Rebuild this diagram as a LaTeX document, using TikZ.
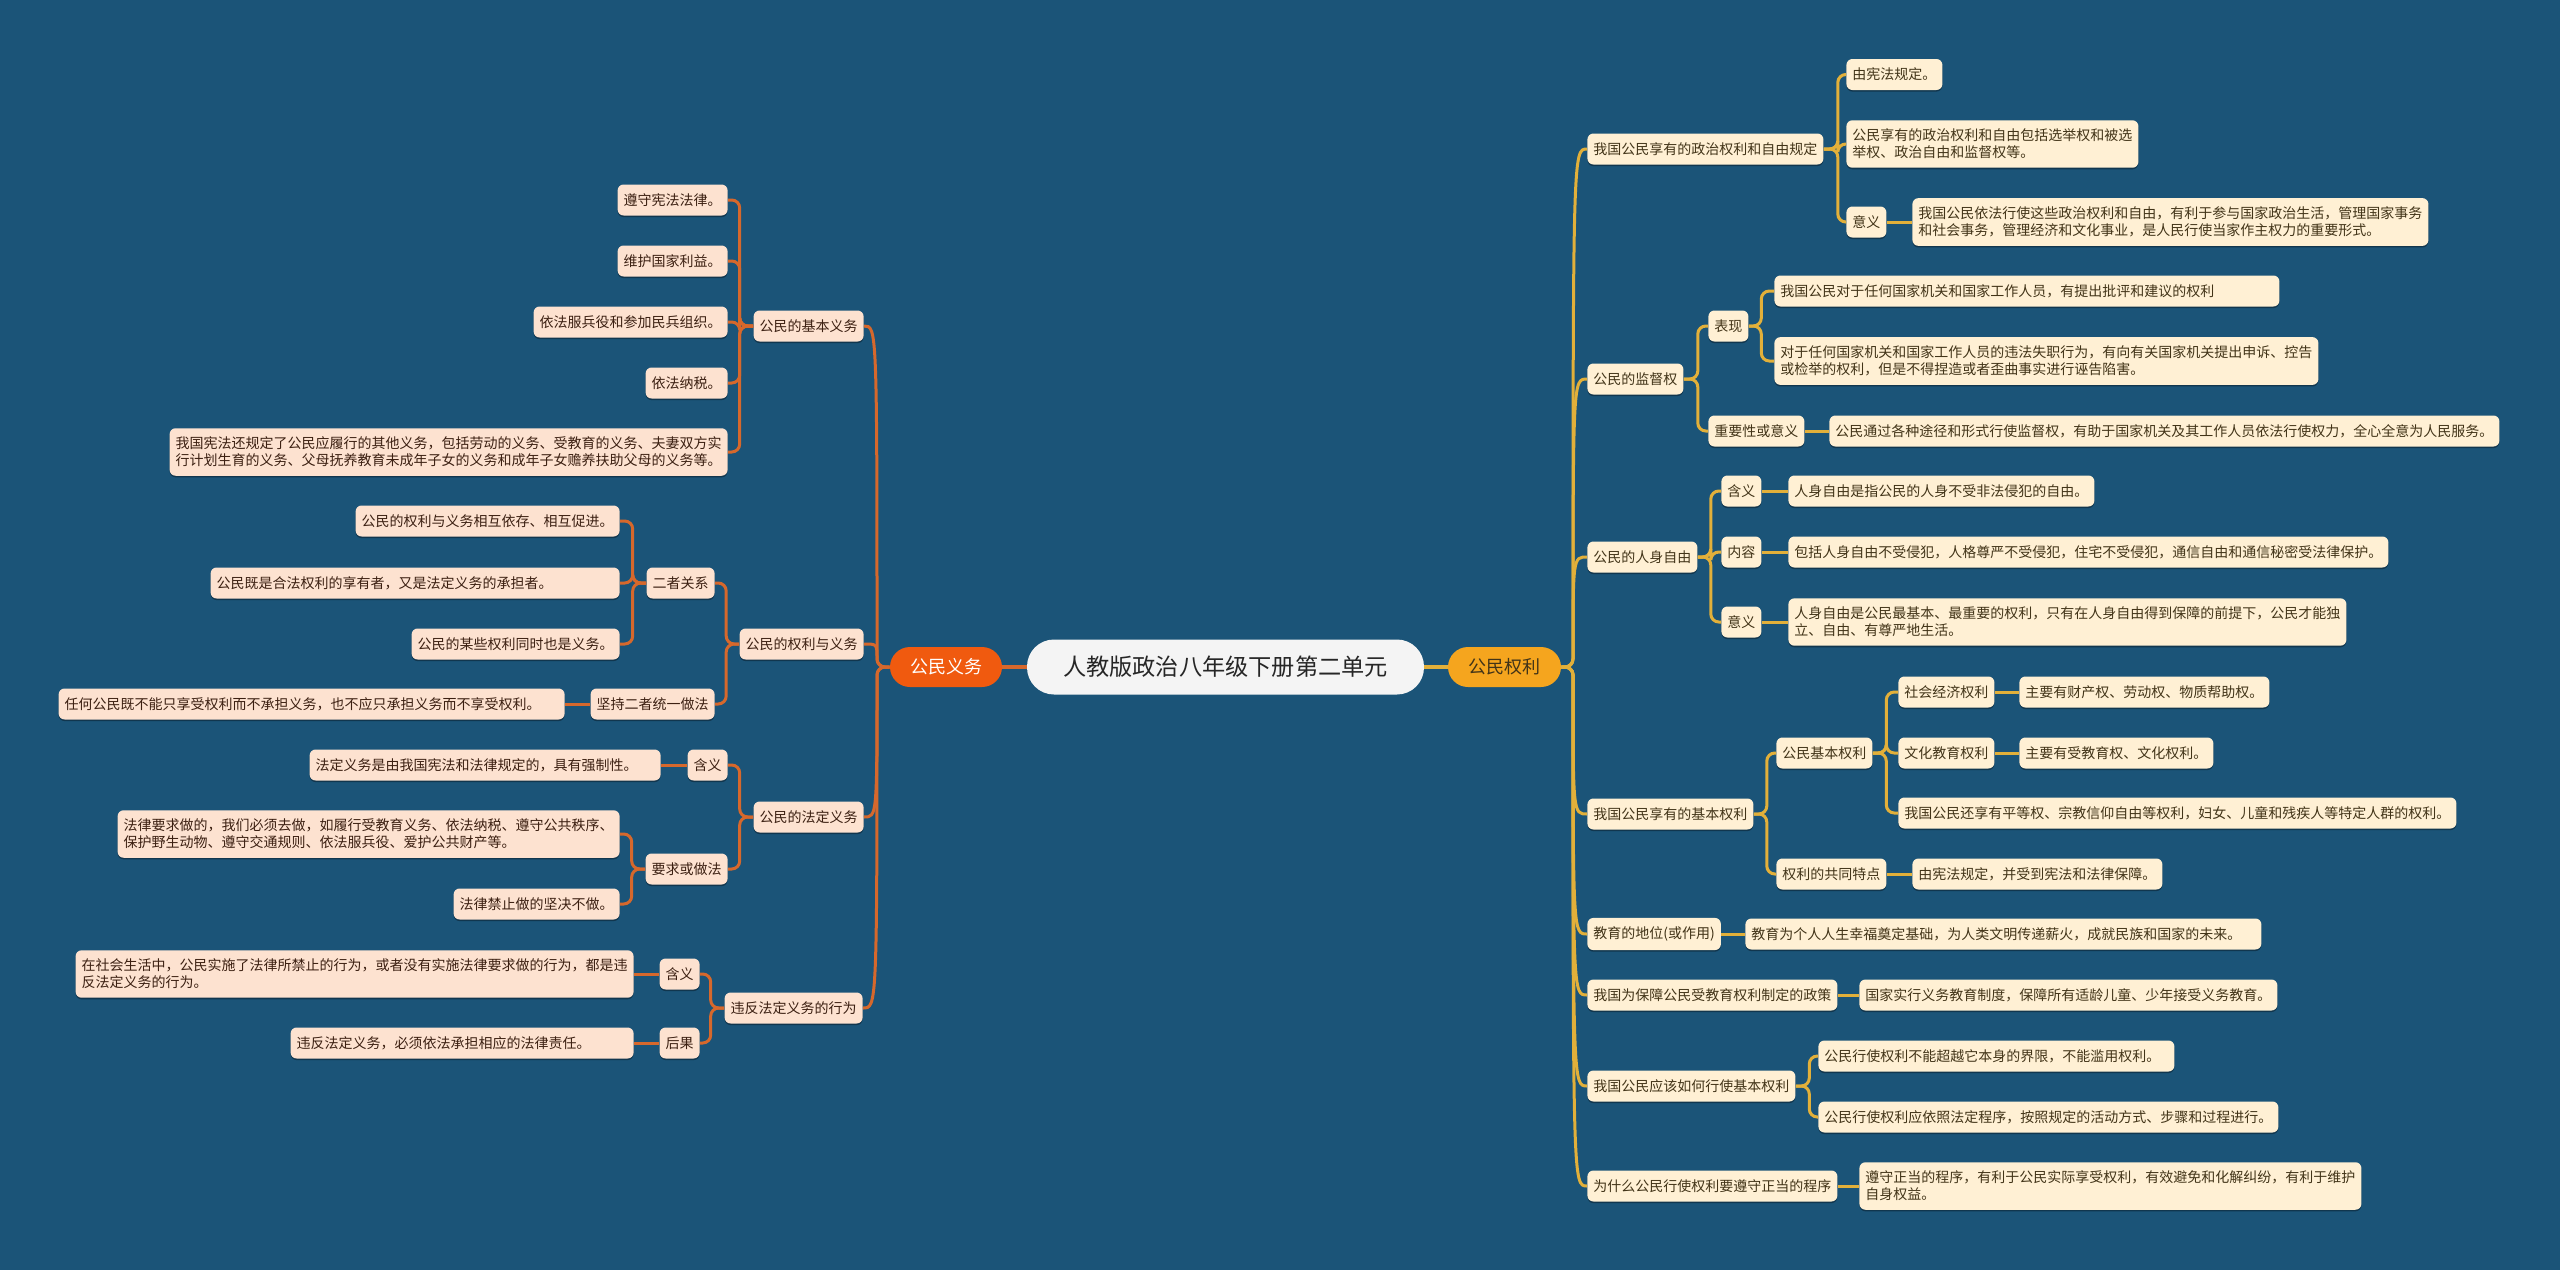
\documentclass[tikz,border=0pt]{standalone}
\usepackage{fontspec}
\newfontfamily\cjk{Noto Sans CJK SC}
\usetikzlibrary{shadows}
\definecolor{bg}{RGB}{27,84,120}
\definecolor{lline}{RGB}{214,104,44}
\definecolor{lfill}{RGB}{253,226,208}
\definecolor{ltext}{RGB}{60,32,18}
\definecolor{rline}{RGB}{226,176,58}
\definecolor{rfill}{RGB}{255,240,212}
\definecolor{rtext}{RGB}{66,52,24}
\definecolor{dutyc}{RGB}{240,90,15}
\definecolor{rightc}{RGB}{245,165,30}
\definecolor{rootc}{RGB}{244,244,244}
\tikzset{
  boxbase/.style={rounded corners=3pt, inner xsep=3pt, inner ysep=4.4pt, minimum height=15.5pt,
    font=\cjk\fontsize{7pt}{8.4pt}\selectfont, align=left,
    drop shadow={shadow xshift=0pt, shadow yshift=-0.8pt, opacity=0.35, fill=black}},
  lbox/.style={boxbase, fill=lfill, text=ltext, anchor=east},
  rbox/.style={boxbase, fill=rfill, text=rtext, anchor=west},
  lline/.style={draw=lline, line width=1.5pt, rounded corners=4pt},
  rline/.style={draw=rline, line width=1.5pt, rounded corners=4pt},
  mainbox/.style={rounded corners=10pt, minimum width=56pt, minimum height=20pt, inner sep=0pt,
    font=\cjk\fontsize{9pt}{10pt}\selectfont},
}
\begin{document}
\begin{tikzpicture}[x=0.5pt,y=-0.5pt]
\fill[bg] (0,0) rectangle (2560,1270);
\useasboundingbox (0,0) rectangle (2560,1270);

% central
\node[fill=rootc, rounded corners=13.5pt, minimum width=198.5pt, minimum height=27.5pt, inner sep=0pt,
  text=black!85, font=\cjk\fontsize{11.6pt}{13pt}\selectfont] (root) at (1225.5,667) {人教版政治八年级下册第二单元};
\node[mainbox, fill=dutyc, text=white] (duty) at (946,667) {公民义务};
\node[mainbox, fill=rightc, text=rtext, minimum width=56.5pt] (rights) at (1504.5,667) {公民权利};
\coordinate (trunkL) at (877,667);
\coordinate (trunkR) at (1573,667);

% ---------- left side ----------
\node[lbox] (L1) at (864,326) {公民的基本义务};
\node[lbox] (L1a) at (728,200) {遵守宪法法律。};
\node[lbox] (L1b) at (728,261) {维护国家利益。};
\node[lbox] (L1c) at (728,322) {依法服兵役和参加民兵组织。};
\node[lbox] (L1d) at (728,383) {依法纳税。};
\node[lbox] (L1e) at (728,452) {我国宪法还规定了公民应履行的其他义务，包括劳动的义务、受教育的义务、夫妻双方实\\行计划生育的义务、父母抚养教育未成年子女的义务和成年子女赡养扶助父母的义务等。};

\node[lbox] (L2) at (864,644) {公民的权利与义务};
\node[lbox] (L2a) at (715,583) {二者关系};
\node[lbox] (L2a1) at (620,521) {公民的权利与义务相互依存、相互促进。};
\node[lbox, text width=198.5pt] (L2a2) at (620,583) {公民既是合法权利的享有者，又是法定义务的承担者。};
\node[lbox] (L2a3) at (620,644) {公民的某些权利同时也是义务。};
\node[lbox] (L2b) at (715,704) {坚持二者统一做法};
\node[lbox, text width=247pt] (L2b1) at (565,704) {任何公民既不能只享受权利而不承担义务，也不应只承担义务而不享受权利。};

\node[lbox] (L3) at (864,817) {公民的法定义务};
\node[lbox] (L3a) at (728,765) {含义};
\node[lbox, text width=169.5pt] (L3a1) at (661,765) {法定义务是由我国宪法和法律规定的，具有强制性。};
\node[lbox] (L3b) at (728,869) {要求或做法};
\node[lbox] (L3b1) at (620,834) {法律要求做的，我们必须去做，如履行受教育义务、依法纳税、遵守公共秩序、\\保护野生动物、遵守交通规则、依法服兵役、爱护公共财产等。};
\node[lbox] (L3b2) at (620,904) {法律禁止做的坚决不做。};

\node[lbox] (L4) at (863,1008) {违反法定义务的行为};
\node[lbox] (L4a) at (700,974) {含义};
\node[lbox] (L4a1) at (634,974) {在社会生活中，公民实施了法律所禁止的行为，或者没有实施法律要求做的行为，都是违\\反法定义务的行为。};
\node[lbox] (L4b) at (700,1043) {后果};
\node[lbox, text width=165.5pt] (L4b1) at (634,1043) {违反法定义务，必须依法承担相应的法律责任。};

% ---------- right side ----------
\node[rbox] (R1) at (1587,149) {我国公民享有的政治权利和自由规定};
\node[rbox] (R1a) at (1846,74.5) {由宪法规定。};
\node[rbox] (R1b) at (1846,144) {公民享有的政治权利和自由包括选举权和被选\\举权、政治自由和监督权等。};
\node[rbox] (R1c) at (1846,222) {意义};
\node[rbox] (R1c1) at (1912,222) {我国公民依法行使这些政治权利和自由，有利于参与国家政治生活，管理国家事务\\和社会事务，管理经济和文化事业，是人民行使当家作主权力的重要形式。};

\node[rbox] (R2) at (1587,379) {公民的监督权};
\node[rbox] (R2a) at (1708,326) {表现};
\node[rbox, text width=246.5pt] (R2a1) at (1774,291) {我国公民对于任何国家机关和国家工作人员，有提出批评和建议的权利};
\node[rbox] (R2a2) at (1774,361) {对于任何国家机关和国家工作人员的违法失职行为，有向有关国家机关提出申诉、控告\\或检举的权利，但是不得捏造或者歪曲事实进行诬告陷害。};
\node[rbox] (R2b) at (1708,431) {重要性或意义};
\node[rbox] (R2b1) at (1829,431) {公民通过各种途径和形式行使监督权，有助于国家机关及其工作人员依法行使权力，全心全意为人民服务。};

\node[rbox] (R3) at (1587,557) {公民的人身自由};
\node[rbox] (R3a) at (1721,491) {含义};
\node[rbox] (R3a1) at (1788,491) {人身自由是指公民的人身不受非法侵犯的自由。};
\node[rbox] (R3b) at (1721,552) {内容};
\node[rbox] (R3b1) at (1788,552) {包括人身自由不受侵犯，人格尊严不受侵犯，住宅不受侵犯，通信自由和通信秘密受法律保护。};
\node[rbox] (R3c) at (1721,622) {意义};
\node[rbox] (R3c1) at (1788,622) {人身自由是公民最基本、最重要的权利，只有在人身自由得到保障的前提下，公民才能独\\立、自由、有尊严地生活。};

\node[rbox] (R4) at (1587,814) {我国公民享有的基本权利};
\node[rbox] (R4a) at (1776,753) {公民基本权利};
\node[rbox] (R4a1) at (1898,692) {社会经济权利};
\node[rbox] (R4a1x) at (2019,692) {主要有财产权、劳动权、物质帮助权。};
\node[rbox] (R4a2) at (1898,753) {文化教育权利};
\node[rbox] (R4a2x) at (2019,753) {主要有受教育权、文化权利。};
\node[rbox] (R4a3) at (1898,813) {我国公民还享有平等权、宗教信仰自由等权利，妇女、儿童和残疾人等特定人群的权利。};
\node[rbox] (R4b) at (1776,874) {权利的共同特点};
\node[rbox] (R4b1) at (1912,874) {由宪法规定，并受到宪法和法律保障。};

\node[rbox] (R5) at (1587,934) {教育的地位(或作用)};
\node[rbox, text width=252pt] (R5a) at (1745,934) {教育为个人人生幸福奠定基础，为人类文明传递薪火，成就民族和国家的未来。};
\node[rbox] (R6) at (1587,995) {我国为保障公民受教育权利制定的政策};
\node[rbox] (R6a) at (1859,995) {国家实行义务教育制度，保障所有适龄儿童、少年接受义务教育。};
\node[rbox] (R7) at (1587,1086) {我国公民应该如何行使基本权利};
\node[rbox, text width=172pt] (R7a) at (1818,1056) {公民行使权利不能超越它本身的界限，不能滥用权利。};
\node[rbox] (R7b) at (1818,1117) {公民行使权利应依照法定程序，按照规定的活动方式、步骤和过程进行。};
\node[rbox] (R8) at (1587,1186) {为什么公民行使权利要遵守正当的程序};
\node[rbox] (R8a) at (1859,1186) {遵守正当的程序，有利于公民实际享受权利，有效避免和化解纠纷，有利于维护\\自身权益。};

% ---------- connectors ----------
\draw[draw=lline, line width=2pt] (root.west) -- (duty.east);
\draw[draw=rline, line width=2pt] (root.east) -- (rights.west);

\foreach \c in {L1,L2,L3,L4}
  \draw[lline] (duty.west) -- (trunkL) .. controls (trunkL |- \c.east) .. (\c.east);
\foreach \c in {R1,R2,R3,R4,R5,R6,R7,R8}
  \draw[rline] (rights.east) -- (trunkR) .. controls (trunkR |- \c.west) .. (\c.west);

\foreach \c in {L1a,L1b,L1c,L1d,L1e}
  \draw[lline] (L1.west) -- ++(-13.5,0) |- (\c.east);
\foreach \c in {L2a,L2b}
  \draw[lline] (L2.west) -- ++(-13,0) |- (\c.east);
\foreach \c in {L2a1,L2a2,L2a3}
  \draw[lline] (L2a.west) -- ++(-13.5,0) |- (\c.east);
\draw[lline] (L2b.west) -- (L2b1.east);
\foreach \c in {L3a,L3b}
  \draw[lline] (L3.west) -- ++(-13.5,0) |- (\c.east);
\draw[lline] (L3a.west) -- (L3a1.east);
\foreach \c in {L3b1,L3b2}
  \draw[lline] (L3b.west) -- ++(-13.5,0) |- (\c.east);
\foreach \c in {L4a,L4b}
  \draw[lline] (L4.west) -- ++(-13.5,0) |- (\c.east);
\draw[lline] (L4a.west) -- (L4a1.east);
\draw[lline] (L4b.west) -- (L4b1.east);

\foreach \c in {R1a,R1b,R1c}
  \draw[rline] (R1.east) -- ++(14,0) |- (\c.west);
\draw[rline] (R1c.east) -- (R1c1.west);
\foreach \c in {R2a,R2b}
  \draw[rline] (R2.east) -- ++(14,0) |- (\c.west);
\foreach \c in {R2a1,R2a2}
  \draw[rline] (R2a.east) -- ++(12.5,0) |- (\c.west);
\draw[rline] (R2b.east) -- (R2b1.west);
\foreach \c in {R3a,R3b,R3c}
  \draw[rline] (R3.east) -- ++(13,0) |- (\c.west);
\draw[rline] (R3a.east) -- (R3a1.west);
\draw[rline] (R3b.east) -- (R3b1.west);
\draw[rline] (R3c.east) -- (R3c1.west);
\foreach \c in {R4a,R4b}
  \draw[rline] (R4.east) -- ++(13,0) |- (\c.west);
\foreach \c in {R4a1,R4a2,R4a3}
  \draw[rline] (R4a.east) -- ++(13.5,0) |- (\c.west);
\draw[rline] (R4a1.east) -- (R4a1x.west);
\draw[rline] (R4a2.east) -- (R4a2x.west);
\draw[rline] (R4b.east) -- (R4b1.west);
\draw[rline] (R5.east) -- (R5a.west);
\draw[rline] (R6.east) -- (R6a.west);
\foreach \c in {R7a,R7b}
  \draw[rline] (R7.east) -- ++(13.5,0) |- (\c.west);
\draw[rline] (R8.east) -- (R8a.west);
\end{tikzpicture}
\end{document}
